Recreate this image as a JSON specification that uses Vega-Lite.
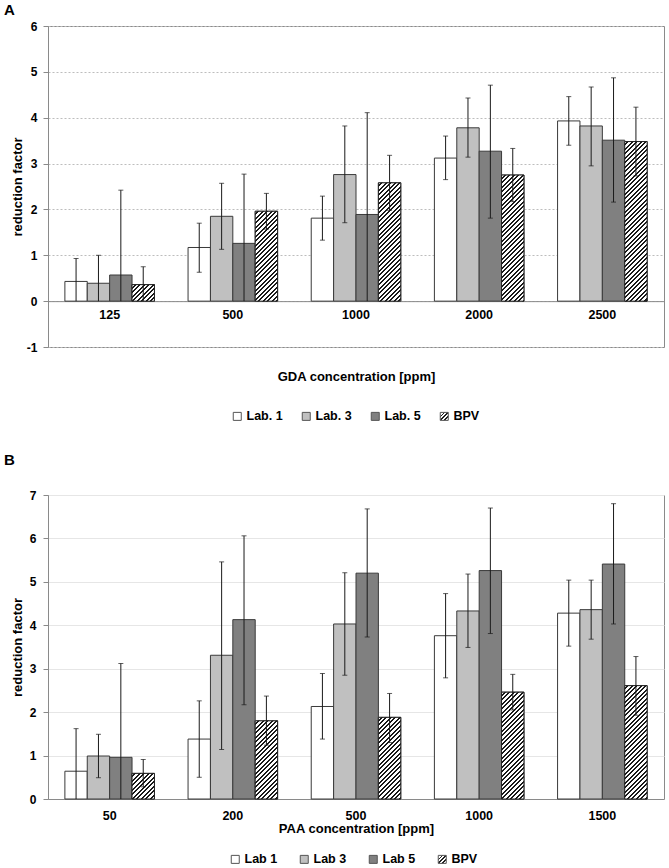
{
  "$schema": "https://vega.github.io/schema/vega-lite/v6.json",
  "padding": {"left": 3, "top": 2, "right": 2, "bottom": 0},
  "params": [
    {"name": "hatch", "value": [
      {"offset":0,"color":"#fff"},{"offset":0.0138,"color":"#fff"},{"offset":0.0138,"color":"#1a1a1a"},{"offset":0.025,"color":"#1a1a1a"},
      {"offset":0.025,"color":"#fff"},{"offset":0.0388,"color":"#fff"},{"offset":0.0388,"color":"#1a1a1a"},{"offset":0.05,"color":"#1a1a1a"},
      {"offset":0.05,"color":"#fff"},{"offset":0.0638,"color":"#fff"},{"offset":0.0638,"color":"#1a1a1a"},{"offset":0.075,"color":"#1a1a1a"},
      {"offset":0.075,"color":"#fff"},{"offset":0.0888,"color":"#fff"},{"offset":0.0888,"color":"#1a1a1a"},{"offset":0.1,"color":"#1a1a1a"},
      {"offset":0.1,"color":"#fff"},{"offset":0.1138,"color":"#fff"},{"offset":0.1138,"color":"#1a1a1a"},{"offset":0.125,"color":"#1a1a1a"},
      {"offset":0.125,"color":"#fff"},{"offset":0.1388,"color":"#fff"},{"offset":0.1388,"color":"#1a1a1a"},{"offset":0.15,"color":"#1a1a1a"},
      {"offset":0.15,"color":"#fff"},{"offset":0.1638,"color":"#fff"},{"offset":0.1638,"color":"#1a1a1a"},{"offset":0.175,"color":"#1a1a1a"},
      {"offset":0.175,"color":"#fff"},{"offset":0.1888,"color":"#fff"},{"offset":0.1888,"color":"#1a1a1a"},{"offset":0.2,"color":"#1a1a1a"},
      {"offset":0.2,"color":"#fff"},{"offset":0.2138,"color":"#fff"},{"offset":0.2138,"color":"#1a1a1a"},{"offset":0.225,"color":"#1a1a1a"},
      {"offset":0.225,"color":"#fff"},{"offset":0.2388,"color":"#fff"},{"offset":0.2388,"color":"#1a1a1a"},{"offset":0.25,"color":"#1a1a1a"},
      {"offset":0.25,"color":"#fff"},{"offset":0.2638,"color":"#fff"},{"offset":0.2638,"color":"#1a1a1a"},{"offset":0.275,"color":"#1a1a1a"},
      {"offset":0.275,"color":"#fff"},{"offset":0.2888,"color":"#fff"},{"offset":0.2888,"color":"#1a1a1a"},{"offset":0.3,"color":"#1a1a1a"},
      {"offset":0.3,"color":"#fff"},{"offset":0.3138,"color":"#fff"},{"offset":0.3138,"color":"#1a1a1a"},{"offset":0.325,"color":"#1a1a1a"},
      {"offset":0.325,"color":"#fff"},{"offset":0.3388,"color":"#fff"},{"offset":0.3388,"color":"#1a1a1a"},{"offset":0.35,"color":"#1a1a1a"},
      {"offset":0.35,"color":"#fff"},{"offset":0.3638,"color":"#fff"},{"offset":0.3638,"color":"#1a1a1a"},{"offset":0.375,"color":"#1a1a1a"},
      {"offset":0.375,"color":"#fff"},{"offset":0.3888,"color":"#fff"},{"offset":0.3888,"color":"#1a1a1a"},{"offset":0.4,"color":"#1a1a1a"},
      {"offset":0.4,"color":"#fff"},{"offset":0.4138,"color":"#fff"},{"offset":0.4138,"color":"#1a1a1a"},{"offset":0.425,"color":"#1a1a1a"},
      {"offset":0.425,"color":"#fff"},{"offset":0.4388,"color":"#fff"},{"offset":0.4388,"color":"#1a1a1a"},{"offset":0.45,"color":"#1a1a1a"},
      {"offset":0.45,"color":"#fff"},{"offset":0.4638,"color":"#fff"},{"offset":0.4638,"color":"#1a1a1a"},{"offset":0.475,"color":"#1a1a1a"},
      {"offset":0.475,"color":"#fff"},{"offset":0.4888,"color":"#fff"},{"offset":0.4888,"color":"#1a1a1a"},{"offset":0.5,"color":"#1a1a1a"},
      {"offset":0.5,"color":"#fff"},{"offset":0.5138,"color":"#fff"},{"offset":0.5138,"color":"#1a1a1a"},{"offset":0.525,"color":"#1a1a1a"},
      {"offset":0.525,"color":"#fff"},{"offset":0.5388,"color":"#fff"},{"offset":0.5388,"color":"#1a1a1a"},{"offset":0.55,"color":"#1a1a1a"},
      {"offset":0.55,"color":"#fff"},{"offset":0.5638,"color":"#fff"},{"offset":0.5638,"color":"#1a1a1a"},{"offset":0.575,"color":"#1a1a1a"},
      {"offset":0.575,"color":"#fff"},{"offset":0.5888,"color":"#fff"},{"offset":0.5888,"color":"#1a1a1a"},{"offset":0.6,"color":"#1a1a1a"},
      {"offset":0.6,"color":"#fff"},{"offset":0.6138,"color":"#fff"},{"offset":0.6138,"color":"#1a1a1a"},{"offset":0.625,"color":"#1a1a1a"},
      {"offset":0.625,"color":"#fff"},{"offset":0.6388,"color":"#fff"},{"offset":0.6388,"color":"#1a1a1a"},{"offset":0.65,"color":"#1a1a1a"},
      {"offset":0.65,"color":"#fff"},{"offset":0.6638,"color":"#fff"},{"offset":0.6638,"color":"#1a1a1a"},{"offset":0.675,"color":"#1a1a1a"},
      {"offset":0.675,"color":"#fff"},{"offset":0.6888,"color":"#fff"},{"offset":0.6888,"color":"#1a1a1a"},{"offset":0.7,"color":"#1a1a1a"},
      {"offset":0.7,"color":"#fff"},{"offset":0.7138,"color":"#fff"},{"offset":0.7138,"color":"#1a1a1a"},{"offset":0.725,"color":"#1a1a1a"},
      {"offset":0.725,"color":"#fff"},{"offset":0.7388,"color":"#fff"},{"offset":0.7388,"color":"#1a1a1a"},{"offset":0.75,"color":"#1a1a1a"},
      {"offset":0.75,"color":"#fff"},{"offset":0.7638,"color":"#fff"},{"offset":0.7638,"color":"#1a1a1a"},{"offset":0.775,"color":"#1a1a1a"},
      {"offset":0.775,"color":"#fff"},{"offset":0.7888,"color":"#fff"},{"offset":0.7888,"color":"#1a1a1a"},{"offset":0.8,"color":"#1a1a1a"},
      {"offset":0.8,"color":"#fff"},{"offset":0.8138,"color":"#fff"},{"offset":0.8138,"color":"#1a1a1a"},{"offset":0.825,"color":"#1a1a1a"},
      {"offset":0.825,"color":"#fff"},{"offset":0.8388,"color":"#fff"},{"offset":0.8388,"color":"#1a1a1a"},{"offset":0.85,"color":"#1a1a1a"},
      {"offset":0.85,"color":"#fff"},{"offset":0.8638,"color":"#fff"},{"offset":0.8638,"color":"#1a1a1a"},{"offset":0.875,"color":"#1a1a1a"},
      {"offset":0.875,"color":"#fff"},{"offset":0.8888,"color":"#fff"},{"offset":0.8888,"color":"#1a1a1a"},{"offset":0.9,"color":"#1a1a1a"},
      {"offset":0.9,"color":"#fff"},{"offset":0.9138,"color":"#fff"},{"offset":0.9138,"color":"#1a1a1a"},{"offset":0.925,"color":"#1a1a1a"},
      {"offset":0.925,"color":"#fff"},{"offset":0.9388,"color":"#fff"},{"offset":0.9388,"color":"#1a1a1a"},{"offset":0.95,"color":"#1a1a1a"},
      {"offset":0.95,"color":"#fff"},{"offset":0.9638,"color":"#fff"},{"offset":0.9638,"color":"#1a1a1a"},{"offset":0.975,"color":"#1a1a1a"},
      {"offset":0.975,"color":"#fff"},{"offset":0.9888,"color":"#fff"},{"offset":0.9888,"color":"#1a1a1a"},{"offset":1,"color":"#1a1a1a"}
    ]},
    {"name": "legendHatch", "value": {"gradient": "linear", "x1": 0, "y1": 0, "x2": 1, "y2": 1, "stops": [
      {"offset": 0, "color": "#fff"}, {"offset": 0.22, "color": "#fff"}, {"offset": 0.22, "color": "#222"}, {"offset": 0.32, "color": "#222"},
      {"offset": 0.32, "color": "#fff"}, {"offset": 0.45, "color": "#fff"}, {"offset": 0.45, "color": "#222"}, {"offset": 0.55, "color": "#222"},
      {"offset": 0.55, "color": "#fff"}, {"offset": 0.68, "color": "#fff"}, {"offset": 0.68, "color": "#222"}, {"offset": 0.78, "color": "#222"},
      {"offset": 0.78, "color": "#fff"}, {"offset": 1, "color": "#fff"}]}}
  ],
  "config": {
    "font": "Liberation Sans",
    "view": {"stroke": "#8a8a8a", "strokeWidth": 1},
    "axis": {
      "labelFont": "Liberation Sans", "labelFontWeight": "bold", "labelColor": "#000",
      "titleFont": "Liberation Sans", "titleFontWeight": "bold", "titleColor": "#000",
      "domainColor": "#8a8a8a", "tickColor": "#8a8a8a"
    },
    "title": {"font": "Liberation Sans", "fontWeight": "bold", "fontSize": 15, "color": "#000"}
  },
  "resolve": {"scale": {"color": "independent", "xOffset": "independent"}, "legend": {"color": "independent"}},
  "spacing": 28,
  "vconcat": [
    {
      "title": {"text": "A", "anchor": "start", "frame": "bounds", "dx": -7, "offset": 2},
      "width": 616,
      "height": 321,
      "data": {"values": [
        {"conc": "125", "lab": "Lab. 1", "v": 0.43, "lo": 0, "hi": 0.93},
        {"conc": "125", "lab": "Lab. 3", "v": 0.39, "lo": 0, "hi": 1.0},
        {"conc": "125", "lab": "Lab. 5", "v": 0.57, "lo": 0, "hi": 2.42},
        {"conc": "125", "lab": "BPV", "v": 0.36, "lo": 0, "hi": 0.75},
        {"conc": "500", "lab": "Lab. 1", "v": 1.17, "lo": 0.63, "hi": 1.7},
        {"conc": "500", "lab": "Lab. 3", "v": 1.85, "lo": 1.13, "hi": 2.57},
        {"conc": "500", "lab": "Lab. 5", "v": 1.26, "lo": 0, "hi": 2.77},
        {"conc": "500", "lab": "BPV", "v": 1.96, "lo": 1.57, "hi": 2.35},
        {"conc": "1000", "lab": "Lab. 1", "v": 1.81, "lo": 1.33, "hi": 2.29},
        {"conc": "1000", "lab": "Lab. 3", "v": 2.76, "lo": 1.71, "hi": 3.82},
        {"conc": "1000", "lab": "Lab. 5", "v": 1.89, "lo": 0, "hi": 4.11},
        {"conc": "1000", "lab": "BPV", "v": 2.58, "lo": 1.98, "hi": 3.18},
        {"conc": "2000", "lab": "Lab. 1", "v": 3.12, "lo": 2.65, "hi": 3.6},
        {"conc": "2000", "lab": "Lab. 3", "v": 3.78, "lo": 3.14, "hi": 4.43},
        {"conc": "2000", "lab": "Lab. 5", "v": 3.27, "lo": 1.81, "hi": 4.71},
        {"conc": "2000", "lab": "BPV", "v": 2.75, "lo": 2.17, "hi": 3.33},
        {"conc": "2500", "lab": "Lab. 1", "v": 3.93, "lo": 3.4, "hi": 4.46},
        {"conc": "2500", "lab": "Lab. 3", "v": 3.82, "lo": 2.95, "hi": 4.67},
        {"conc": "2500", "lab": "Lab. 5", "v": 3.51, "lo": 2.16, "hi": 4.87},
        {"conc": "2500", "lab": "BPV", "v": 3.48, "lo": 2.73, "hi": 4.23}
      ]},
      "layer": [
        {
          "mark": {"type": "bar", "stroke": "#3a3a3a", "strokeWidth": 1},
          "encoding": {
            "x": {"field": "conc", "type": "nominal", "sort": null,
              "scale": {"paddingInner": 0.273, "paddingOuter": 0.137},
              "axis": {"title": "GDA concentration [ppm]", "labelAngle": 0, "ticks": false, "offset": -45.86,
                "labelPadding": 7, "labelFontSize": 12.5, "titleFontSize": 13, "titlePadding": 50, "grid": false}},
            "xOffset": {"field": "lab", "type": "nominal",
              "scale": {"domain": ["Lab. 1", "Lab. 3", "Lab. 5", "BPV"], "paddingInner": 0, "paddingOuter": 0}},
            "y": {"field": "v", "type": "quantitative", "title": "reduction factor",
              "scale": {"domain": [-1, 6], "nice": false},
              "axis": {"values": [-1, 0, 1, 2, 3, 4, 5, 6], "labelFontSize": 12, "titleFontSize": 13,
                "labelExpr": "replace(datum.label, '−', '-')",
                "tickSize": 5, "labelPadding": 6, "titlePadding": 0, "minExtent": 24,
                "gridDash": [2, 2], "gridColor": "#bdbdbd"}},
            "color": {"field": "lab", "type": "nominal",
              "scale": {"domain": ["Lab. 1", "Lab. 3", "Lab. 5", "BPV"], "range": ["#ffffff", "#c0c0c0", "#808080", {"expr": "legendHatch"}]},
              "legend": {"title": null, "orient": "none", "legendX": 183, "legendY": 384, "direction": "horizontal", "symbolType": "square",
                "symbolSize": 64, "symbolStrokeColor": "#555", "symbolStrokeWidth": 1,
                "labelFontSize": 12.5, "labelFontWeight": "bold", "labelColor": "#000", "labelFont": "Liberation Sans",
                "labelOffset": 3, "columnPadding": 17,
                "encode": {"symbols": {"update": {"stroke": {"value": "#555"}, "strokeWidth": {"value": 1}}}}}
            }
          }
        },
        {
          "transform": [{"filter": "datum.lab === 'BPV'"}],
          "mark": {"type": "bar", "stroke": "#222", "strokeWidth": 1,
            "fill": {"expr": "{gradient:'linear',x1:0,y1:0,x2:180*22.39/(501.3+pow(datum.v*45.86,2)),y2:180*datum.v*45.86/(501.3+pow(datum.v*45.86,2)),stops:hatch}"}},
          "encoding": {
            "x": {"field": "conc", "type": "nominal", "sort": null},
            "xOffset": {"field": "lab", "type": "nominal"},
            "y": {"field": "v", "type": "quantitative", "title": "reduction factor"}
          }
        },
        {
          "mark": {"type": "rule", "color": "#1a1a1a", "strokeWidth": 1},
          "encoding": {
            "x": {"field": "conc", "type": "nominal", "sort": null},
            "xOffset": {"field": "lab", "type": "nominal"},
            "y": {"field": "lo", "type": "quantitative", "title": "reduction factor"},
            "y2": {"field": "hi"}
          }
        },
        {
          "mark": {"type": "tick", "color": "#1a1a1a", "thickness": 1, "size": 5},
          "encoding": {
            "x": {"field": "conc", "type": "nominal", "sort": null},
            "xOffset": {"field": "lab", "type": "nominal"},
            "y": {"field": "hi", "type": "quantitative", "title": "reduction factor"}
          }
        },
        {
          "transform": [{"filter": "datum.lo > 0"}],
          "mark": {"type": "tick", "color": "#1a1a1a", "thickness": 1, "size": 5},
          "encoding": {
            "x": {"field": "conc", "type": "nominal", "sort": null},
            "xOffset": {"field": "lab", "type": "nominal"},
            "y": {"field": "lo", "type": "quantitative", "title": "reduction factor"}
          }
        }
      ]
    },
    {
      "title": {"text": "B", "anchor": "start", "frame": "bounds", "dx": -7, "offset": 21},
      "width": 616,
      "height": 304,
      "data": {"values": [
        {"conc": "50", "lab": "Lab 1", "v": 0.64, "lo": 0, "hi": 1.62},
        {"conc": "50", "lab": "Lab 3", "v": 0.99, "lo": 0.49, "hi": 1.49},
        {"conc": "50", "lab": "Lab 5", "v": 0.96, "lo": 0, "hi": 3.12},
        {"conc": "50", "lab": "BPV", "v": 0.59, "lo": 0.28, "hi": 0.91},
        {"conc": "200", "lab": "Lab 1", "v": 1.38, "lo": 0.5, "hi": 2.26},
        {"conc": "200", "lab": "Lab 3", "v": 3.31, "lo": 1.14, "hi": 5.46},
        {"conc": "200", "lab": "Lab 5", "v": 4.13, "lo": 2.17, "hi": 6.06},
        {"conc": "200", "lab": "BPV", "v": 1.8, "lo": 1.24, "hi": 2.37},
        {"conc": "500", "lab": "Lab 1", "v": 2.13, "lo": 1.38, "hi": 2.89},
        {"conc": "500", "lab": "Lab 3", "v": 4.03, "lo": 2.85, "hi": 5.21},
        {"conc": "500", "lab": "Lab 5", "v": 5.2, "lo": 3.73, "hi": 6.68},
        {"conc": "500", "lab": "BPV", "v": 1.88, "lo": 1.3, "hi": 2.43},
        {"conc": "1000", "lab": "Lab 1", "v": 3.76, "lo": 2.79, "hi": 4.73},
        {"conc": "1000", "lab": "Lab 3", "v": 4.33, "lo": 3.49, "hi": 5.18},
        {"conc": "1000", "lab": "Lab 5", "v": 5.26, "lo": 3.81, "hi": 6.7},
        {"conc": "1000", "lab": "BPV", "v": 2.46, "lo": 2.05, "hi": 2.87},
        {"conc": "1500", "lab": "Lab 1", "v": 4.28, "lo": 3.52, "hi": 5.04},
        {"conc": "1500", "lab": "Lab 3", "v": 4.36, "lo": 3.68, "hi": 5.04},
        {"conc": "1500", "lab": "Lab 5", "v": 5.41, "lo": 4.03, "hi": 6.8},
        {"conc": "1500", "lab": "BPV", "v": 2.61, "lo": 1.93, "hi": 3.28}
      ]},
      "layer": [
        {
          "mark": {"type": "bar", "stroke": "#3a3a3a", "strokeWidth": 1},
          "encoding": {
            "x": {"field": "conc", "type": "nominal", "sort": null,
              "scale": {"paddingInner": 0.273, "paddingOuter": 0.137},
              "axis": {"title": "PAA concentration [ppm]", "labelAngle": 0, "ticks": false,
                "labelPadding": 10, "labelFontSize": 12.5, "titleFontSize": 13, "titlePadding": 1, "grid": false}},
            "xOffset": {"field": "lab", "type": "nominal",
              "scale": {"domain": ["Lab 1", "Lab 3", "Lab 5", "BPV"], "paddingInner": 0, "paddingOuter": 0}},
            "y": {"field": "v", "type": "quantitative", "title": "reduction factor",
              "scale": {"domain": [0, 7], "nice": false},
              "axis": {"values": [0, 1, 2, 3, 4, 5, 6, 7], "labelFontSize": 12, "titleFontSize": 13,
                "tickSize": 5, "labelPadding": 7, "titlePadding": 0, "minExtent": 24,
                "gridColor": "#e6e6e6"}},
            "color": {"field": "lab", "type": "nominal",
              "scale": {"domain": ["Lab 1", "Lab 3", "Lab 5", "BPV"], "range": ["#ffffff", "#c0c0c0", "#808080", {"expr": "legendHatch"}]},
              "legend": {"title": null, "orient": "none", "legendX": 181, "legendY": 358, "direction": "horizontal", "symbolType": "square",
                "symbolSize": 64, "symbolStrokeColor": "#555", "symbolStrokeWidth": 1,
                "labelFontSize": 12.5, "labelFontWeight": "bold", "labelColor": "#000", "labelFont": "Liberation Sans",
                "labelOffset": 3, "columnPadding": 20,
                "encode": {"symbols": {"update": {"stroke": {"value": "#555"}, "strokeWidth": {"value": 1}}}}}
            }
          }
        },
        {
          "transform": [{"filter": "datum.lab === 'BPV'"}],
          "mark": {"type": "bar", "stroke": "#222", "strokeWidth": 1,
            "fill": {"expr": "{gradient:'linear',x1:0,y1:0,x2:180*22.39/(501.3+pow(datum.v*43.43,2)),y2:180*datum.v*43.43/(501.3+pow(datum.v*43.43,2)),stops:hatch}"}},
          "encoding": {
            "x": {"field": "conc", "type": "nominal", "sort": null},
            "xOffset": {"field": "lab", "type": "nominal"},
            "y": {"field": "v", "type": "quantitative", "title": "reduction factor"}
          }
        },
        {
          "mark": {"type": "rule", "color": "#1a1a1a", "strokeWidth": 1},
          "encoding": {
            "x": {"field": "conc", "type": "nominal", "sort": null},
            "xOffset": {"field": "lab", "type": "nominal"},
            "y": {"field": "lo", "type": "quantitative", "title": "reduction factor"},
            "y2": {"field": "hi"}
          }
        },
        {
          "mark": {"type": "tick", "color": "#1a1a1a", "thickness": 1, "size": 5},
          "encoding": {
            "x": {"field": "conc", "type": "nominal", "sort": null},
            "xOffset": {"field": "lab", "type": "nominal"},
            "y": {"field": "hi", "type": "quantitative", "title": "reduction factor"}
          }
        },
        {
          "transform": [{"filter": "datum.lo > 0"}],
          "mark": {"type": "tick", "color": "#1a1a1a", "thickness": 1, "size": 5},
          "encoding": {
            "x": {"field": "conc", "type": "nominal", "sort": null},
            "xOffset": {"field": "lab", "type": "nominal"},
            "y": {"field": "lo", "type": "quantitative", "title": "reduction factor"}
          }
        }
      ]
    }
  ]
}
